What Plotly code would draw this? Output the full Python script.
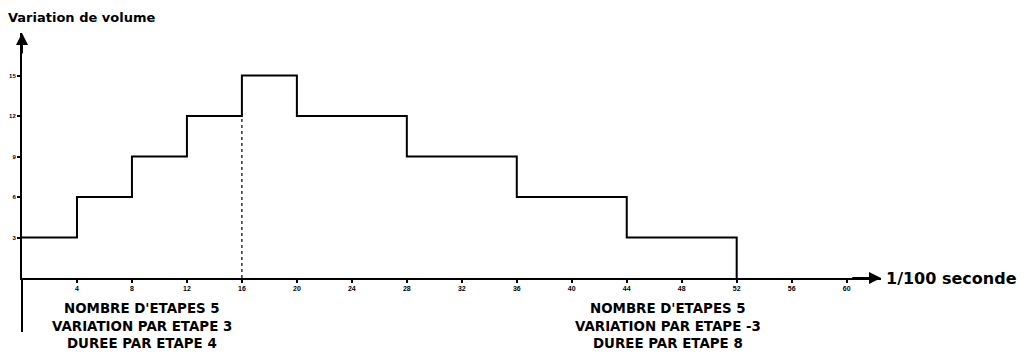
import plotly.graph_objs as go

# step edges (1/100 s) and volume level held from each edge
step_time = [0, 4, 8, 12, 16, 20, 28, 36, 44, 52]
step_volume = [3, 6, 9, 12, 15, 12, 9, 6, 3, 0]

x_ticks = [4, 8, 12, 16, 20, 24, 28, 32, 36, 40, 44, 48, 52, 56, 60]
y_ticks = [3, 6, 9, 12, 15]

peak_time = 16
peak_level = 12

montee_text = ["NOMBRE D'ETAPES 5", "VARIATION PAR ETAPE 3", "DUREE PAR ETAPE 4"]
descente_text = ["NOMBRE D'ETAPES 5", "VARIATION PAR ETAPE -3", "DUREE PAR ETAPE 8"]

FONT = "Liberation Sans"
WIDE = "DejaVu Sans"

# the page body adds an 8px margin, so the figure is 8px smaller each way
fig = go.Figure()

fig.add_trace(go.Scatter(x=step_time,
                         y=step_volume,
                         mode="lines",
                         line=dict(width=2, color="black", shape="hv"),
                         showlegend=False,
                         hoverinfo="skip"))

# dotted marker at the top of the rising phase
fig.add_shape(type="line", xref="x", yref="y",
              x0=peak_time, x1=peak_time, y0=0, y1=peak_level,
              line=dict(color="black", width=1.2, dash="dot"))

# y axis continues below the time axis
fig.add_shape(type="line", xref="paper", yref="paper",
              x0=0, x1=0, y0=-0.22, y1=0,
              line=dict(color="black", width=2))

# arrows on both axes
fig.add_annotation(x=62.5, y=0, ax=60.3, ay=0, xref="x", yref="y",
                   axref="x", ayref="y", text="", showarrow=True,
                   arrowhead=2, arrowsize=1.2, arrowwidth=2, arrowcolor="black")
fig.add_annotation(x=0, y=1, xref="paper", yref="paper", ax=0, ay=22,
                   text="", showarrow=True,
                   arrowhead=2, arrowsize=1.2, arrowwidth=2, arrowcolor="black")

fig.add_annotation(x=1.004, y=0, xref="paper", yref="y", xanchor="left", yanchor="middle",
                   text="<b>1/100 seconde</b>", showarrow=False,
                   font=dict(family=WIDE, size=16, color="black"))

fig.add_annotation(x=0, y=1.1, xref="paper", yref="paper",
                   xanchor="left", yanchor="top", xshift=-16,
                   text="<b>Variation de volume</b>", showarrow=False,
                   font=dict(family=WIDE, size=13, color="black"))

for block, xc in ((montee_text, 8.7), (descente_text, 47)):
    for i, line in enumerate(block):
        fig.add_annotation(x=xc, y=-0.196, xref="x", yref="paper",
                           xanchor="center", yanchor="middle",
                           yshift=(1 - i) * 17.5,
                           text="<b>" + line + "</b>", showarrow=False,
                           font=dict(family=WIDE, size=13.4, color="black"))

fig.update_layout(
    width=1019, height=353,
    margin=dict(l=14, r=146, t=25, b=83, autoexpand=False),
    paper_bgcolor="white", plot_bgcolor="white",
    font=dict(family=FONT, color="black"),
    xaxis=dict(range=[0, 62.5], tickvals=x_ticks, automargin=False,
               ticktext=["<b>%d</b>" % v for v in x_ticks],
               tickfont=dict(size=7, color="black"), ticks="outside", ticklen=3, tickwidth=1.5,
               tickcolor="black", showgrid=False, zeroline=False,
               showline=True, linecolor="black", linewidth=2),
    yaxis=dict(range=[0, 18.15], tickvals=y_ticks, automargin=False,
               ticktext=["<b>%d</b>" % v for v in y_ticks],
               tickfont=dict(size=6, color="black"), ticks="outside", ticklen=3, tickwidth=1.5,
               tickcolor="black", showgrid=False, zeroline=False,
               showline=True, linecolor="black", linewidth=2),
)

fig.write_html("out.html")
